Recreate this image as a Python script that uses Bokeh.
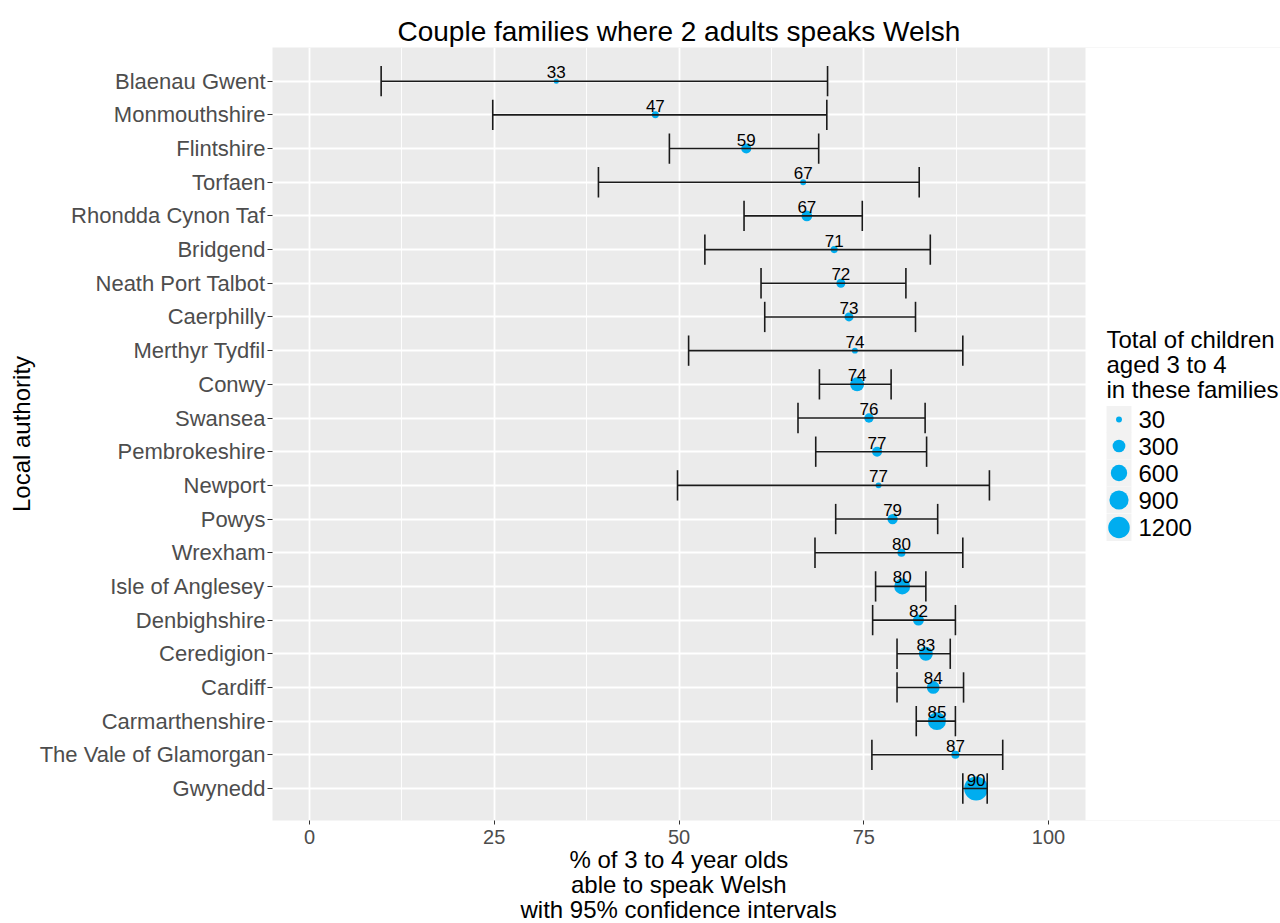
from bokeh.plotting import figure
from bokeh.models import Range1d, FixedTicker, BoxAnnotation, Title
from bokeh.core.properties import value
from bokeh.embed import file_html
from bokeh.resources import INLINE

# ---- data (top to bottom as shown) ----
areas = ["Blaenau Gwent", "Monmouthshire", "Flintshire", "Torfaen", "Rhondda Cynon Taf",
         "Bridgend", "Neath Port Talbot", "Caerphilly", "Merthyr Tydfil", "Conwy", "Swansea",
         "Pembrokeshire", "Newport", "Powys", "Wrexham", "Isle of Anglesey", "Denbighshire",
         "Ceredigion", "Cardiff", "Carmarthenshire", "The Vale of Glamorgan", "Gwynedd"]
pct = [33.4, 46.8, 59.1, 66.8, 67.3, 71.0, 71.9, 73.0, 73.8, 74.1, 75.7,
       76.8, 77.0, 78.9, 80.1, 80.2, 82.4, 83.4, 84.4, 84.9, 87.4, 90.2]
lower = [9.7, 24.8, 48.7, 39.1, 58.8, 53.5, 61.1, 61.6, 51.3, 69.0, 66.1,
         68.5, 49.8, 71.2, 68.4, 76.6, 76.2, 79.5, 79.5, 82.1, 76.1, 88.4]
upper = [70.1, 70.0, 68.9, 82.5, 74.8, 84.0, 80.7, 82.0, 88.4, 78.7, 83.3,
         83.5, 92.0, 85.0, 88.4, 83.4, 87.4, 86.7, 88.5, 87.4, 93.8, 91.7]
children = [22, 48, 150, 30, 180, 50, 105, 105, 30, 390, 120,
            145, 30, 160, 73, 560, 195, 390, 300, 760, 75, 1550]
legend_values = [30, 300, 600, 900, 1200]
legend_title = ["Total of children", "aged 3 to 4", "in these families"]
x_ticks = [0, 25, 50, 75, 100]
x_minor = [12.5, 37.5, 62.5, 87.5]
title = "Couple families where 2 adults speaks Welsh"
x_label = ["% of 3 to 4 year olds", "able to speak Welsh", "with 95% confidence intervals"]
y_label = "Local authority"

POINT = "#00ADEF"
FONT = "Liberation Sans"

# ---- layout constants (pixels) ----
W, H = 1280, 923
LEFT, TOP = 272, 47
PANEL_W, FRAME_H = 813, 773
FRAME_W = W - LEFT
X0, X1 = -5, 105
X_LABEL_OFFSETS = [297, 298.5, 248]   # left offsets so each line is centred under the panel


def diameter(v):
    # area-proportional size scale (pixels)
    return 4.35 + 0.5 * max(v - 20, 0) ** 0.5


n = len(areas)
ypos = [n - i for i in range(n)]
labels = [f"{v:.0f}" for v in pct]
sizes = [diameter(v) for v in children]
cap_lo = [y - 0.45 for y in ypos]
cap_hi = [y + 0.45 for y in ypos]

x_end = X0 + (X1 - X0) * FRAME_W / PANEL_W
p = figure(width=W, height=H, x_range=Range1d(X0, x_end), y_range=Range1d(0.05, 23.0),
           output_backend="svg", toolbar_location=None,
           min_border_left=LEFT, min_border_right=0, min_border_top=TOP,
           min_border_bottom=H - TOP - FRAME_H)
p.extra_x_ranges = {"px": Range1d(0, FRAME_W)}
p.extra_y_ranges = {"py": Range1d(FRAME_H, 0)}

p.background_fill_color = "#EBEBEB"
p.border_fill_color = "white"
p.outline_line_color = None

# title (left-aligned with an offset so that it is centred over the panel)
p.title.text = title
p.title.align = "left"
p.title.offset = 125
p.title.standoff = 2
p.title.text_font = FONT
p.title.text_font_size = "28px"
p.title.text_font_style = "normal"
p.title.text_color = "black"

# x axis
p.xaxis.ticker = FixedTicker(ticks=x_ticks, minor_ticks=x_minor)
p.xaxis.axis_line_color = None
p.xaxis.major_tick_line_color = "#333333"
p.xaxis.major_tick_out = 4
p.xaxis.major_tick_in = 0
p.xaxis.minor_tick_line_color = None
p.xaxis.major_label_text_font = FONT
p.xaxis.major_label_text_font_size = "20px"
p.xaxis.major_label_text_color = "#4D4D4D"
p.xaxis.major_label_standoff = 5

# x-axis title: one line per Title below the axis
for line, off in zip(x_label, X_LABEL_OFFSETS):
    p.add_layout(Title(text=line, align="left", offset=off, standoff=-4,
                       vertical_align="middle", text_font=FONT, text_font_size="24px",
                       text_font_style="normal", text_color="black"), "below")

# y axis
p.yaxis.ticker = FixedTicker(ticks=ypos)
p.yaxis.major_label_overrides = {y: a for y, a in zip(ypos, areas)}
p.yaxis.axis_line_color = None
p.yaxis.major_tick_line_color = "#333333"
p.yaxis.major_tick_out = 5
p.yaxis.major_tick_in = 0
p.yaxis.minor_tick_line_color = None
p.yaxis.major_label_text_font = FONT
p.yaxis.major_label_text_font_size = "22px"
p.yaxis.major_label_text_color = "#4D4D4D"
p.yaxis.major_label_standoff = 2
p.yaxis.axis_label = y_label
p.yaxis.axis_label_text_font = FONT
p.yaxis.axis_label_text_font_size = "24px"
p.yaxis.axis_label_text_font_style = "normal"
p.yaxis.axis_label_text_color = "black"
p.yaxis.axis_label_standoff = 2

# grid
p.xgrid.grid_line_color = "white"
p.xgrid.grid_line_width = 1.8
p.xgrid.minor_grid_line_color = "white"
p.xgrid.minor_grid_line_width = 0.9
p.ygrid.grid_line_color = "white"
p.ygrid.grid_line_width = 1.8

# white area to the right of the panel (legend area)
p.add_layout(BoxAnnotation(left=X1, fill_color="white", fill_alpha=1.0,
                           line_color=None, level="underlay"))

# points, error bars, labels
p.scatter(x=pct, y=ypos, size=sizes, fill_color=POINT, line_color=None)
p.segment(x0=lower, y0=ypos, x1=upper, y1=ypos, line_color="#1a1a1a", line_width=1.6)
p.segment(x0=lower, y0=cap_lo, x1=lower, y1=cap_hi, line_color="#1a1a1a", line_width=1.6)
p.segment(x0=upper, y0=cap_lo, x1=upper, y1=cap_hi, line_color="#1a1a1a", line_width=1.6)
p.text(x=pct, y=ypos, text=labels, text_align="center", text_baseline="middle",
       y_offset=-9, text_font=value(FONT), text_font_size="17px", text_color="black")

# ---- size legend (pixel coordinates inside the frame: page coords minus frame origin) ----
LX = 1106 - LEFT
key_cx = LX + 12.5
key_y = [v - TOP for v in (419, 445.5, 472.5, 499.5, 527)]
title_y = [v - TOP for v in (338.7, 363.7, 388.7)]
p.text(x=[LX] * 3, y=title_y, text=legend_title, text_align="left",
       text_baseline="middle", text_font=value(FONT), text_font_size="24px",
       text_color="black", x_range_name="px", y_range_name="py")
p.rect(x=[key_cx] * 5, y=key_y, width=25, height=27, fill_color="#F2F2F2", line_color=None,
       x_range_name="px", y_range_name="py")
p.scatter(x=[key_cx] * 5, y=key_y, size=[diameter(v) for v in legend_values],
          fill_color=POINT, line_color=None, x_range_name="px", y_range_name="py")
p.text(x=[LX + 32] * 5, y=key_y, text=[str(v) for v in legend_values], text_align="left",
       text_baseline="middle", text_font=value(FONT), text_font_size="24px",
       text_color="black", x_range_name="px", y_range_name="py")

open("out.html", "w").write(file_html(p, INLINE))
